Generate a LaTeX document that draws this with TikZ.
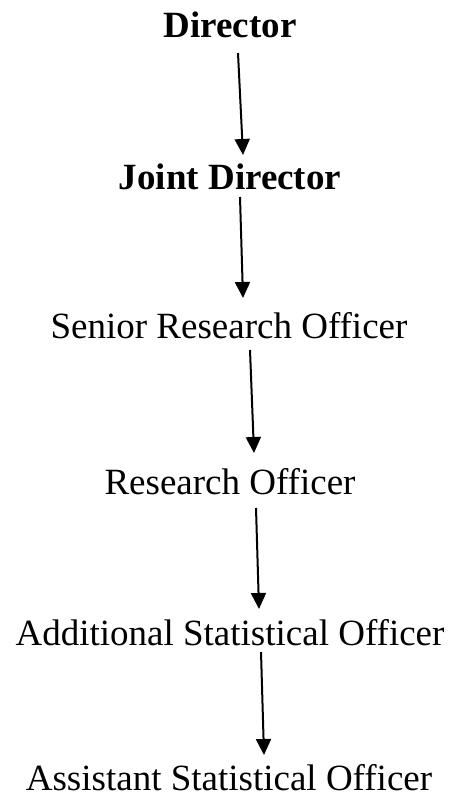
\documentclass[tikz,border=0pt]{standalone}
\usepackage{fontspec}
\setmainfont[Ligatures=NoCommon]{Liberation Serif}
\usepackage{tikz}
\usetikzlibrary{positioning, arrows.meta}
\tikzset{
  rank/.style={
    inner sep=0pt, anchor=base,
    font=\fontsize{37}{44}\selectfont
  },
  toprank/.style={rank, font=\fontsize{37}{44}\selectfont\bfseries},
  down/.style={-{Triangle[length=16pt,width=15pt]}, line width=2pt},
}

\begin{document}
\begin{tikzpicture}[x=1pt, y=-1pt]
  \useasboundingbox (0,0) rectangle (452,802);

  \node[toprank] (dir)  at (230,38)  {Director};
  \node[toprank] (jdir) at (230,190) {Joint Director};
  \node[rank]    (sro)  at (229,338) {Senior Research Officer};
  \node[rank]    (ro)   at (230,494) {Research Officer};
  \node[rank]    (addl) at (230,645) {Additional Statistical Officer};
  \node[rank]    (asst) at (229,790) {Assistant Statistical Officer};

  \draw[down] ([shift={(8pt,-15pt)}]dir.base)   -- ([shift={(13pt,35pt)}]jdir.base);
  \draw[down] ([shift={(10pt,-7pt)}]jdir.base)  -- ([shift={(14pt,40pt)}]sro.base);
  \draw[down] ([shift={(21pt,-12pt)}]sro.base)  -- ([shift={(24pt,41pt)}]ro.base);
  \draw[down] ([shift={(26pt,-14pt)}]ro.base)   -- ([shift={(29pt,36pt)}]addl.base);
  \draw[down] ([shift={(31pt,-7pt)}]addl.base)  -- ([shift={(35pt,35pt)}]asst.base);
\end{tikzpicture}
\end{document}
